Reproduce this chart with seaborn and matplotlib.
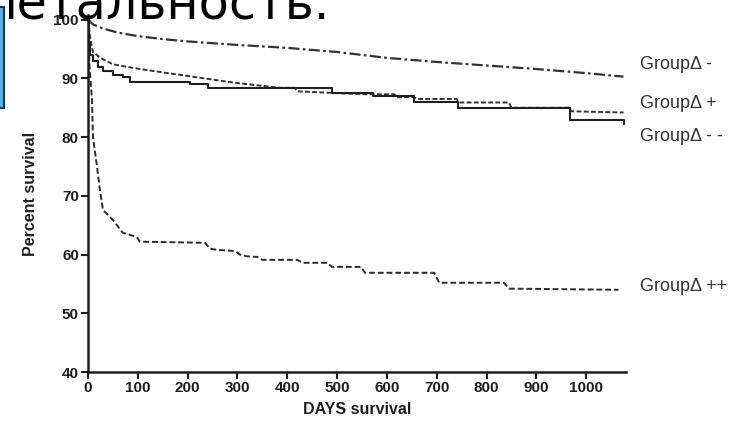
# survival curves, four groups (Kaplan-Meier style)
import matplotlib
matplotlib.use('Agg')
import matplotlib.pyplot as plt
import seaborn as sns
from matplotlib.patches import Rectangle

# ---- data {{{
group_names = ['GroupΔ -', 'GroupΔ +', 'GroupΔ - -', 'GroupΔ ++']

days_minus = [0, 10, 30, 60, 100, 150, 200, 300, 400, 500, 600, 700, 800, 900, 1000, 1075]
surv_minus = [100, 99.2, 98.5, 97.8, 97.2, 96.7, 96.3, 95.7, 95.2, 94.5, 93.5, 92.8, 92.2, 91.6, 90.9, 90.3]

days_plus = [0, 5, 10, 25, 50, 90, 120, 185, 250, 300, 385, 415, 420, 500, 560, 615, 620,
             655, 660, 740, 745, 845, 850, 965, 970, 1075]
surv_plus = [100, 96.5, 94.5, 93.5, 92.4, 91.8, 91.4, 90.6, 89.8, 89.2, 88.4, 88.4, 87.8, 87.5, 87.3, 87.3, 86.8,
             86.8, 86.5, 86.5, 85.9, 85.9, 85.0, 85.0, 84.4, 84.2]

days_mm = [0, 2, 5, 10, 20, 30, 50, 70, 85, 205, 240, 490, 572, 655, 743, 968, 1065, 1075]
surv_mm = [100, 96, 94, 93, 92, 91.2, 90.5, 90.3, 89.4, 89.0, 88.4, 87.5, 87.0, 86.0, 85.0, 83.0, 83.0, 82.3]

days_pp = [0, 3, 8, 10, 18, 24, 30, 50, 70, 98, 104, 235, 245, 259, 295, 305, 319, 340, 350,
           420, 430, 480, 490, 548, 556, 695, 705, 835, 845, 1065]
surv_pp = [100, 92, 86.4, 80, 75, 71, 67.6, 65.9, 63.7, 63.0, 62.2, 62.0, 61.0, 60.8, 60.6, 60.0, 59.7, 59.6, 59.1,
           59.1, 58.6, 58.6, 57.9, 57.9, 56.9, 56.9, 55.2, 55.2, 54.2, 54.0]

x_ticks = [0, 100, 200, 300, 400, 500, 600, 700, 800, 900, 1000]
y_ticks = [40, 50, 60, 70, 80, 90, 100]
# }}}

# ---- layout {{{
label_x = 1108
label_y = [92.3, 85.7, 80.05, 54.5]
# }}}

sns.set_theme(style='white')
plt.rcParams['font.family'] = ['Liberation Sans', 'DejaVu Sans']

fig = plt.figure(figsize=(7.5, 4.25), dpi=100)
ax = fig.add_axes([88 / 750, 53 / 425, 538 / 750, 357 / 425])

ink = '#1e1e1e'
sns.lineplot(x=days_minus, y=surv_minus, ax=ax, color='#333333', linewidth=1.6,
             linestyle=(0, (5, 1.5, 1.2, 1.5)), estimator=None)
sns.lineplot(x=days_plus, y=surv_plus, ax=ax, color='#333333', linewidth=1.4,
             linestyle=(0, (2.5, 1.2)), estimator=None)
sns.lineplot(x=days_mm, y=surv_mm, ax=ax, color=ink, linewidth=1.5,
             drawstyle='steps-post', estimator=None)
sns.lineplot(x=days_pp, y=surv_pp, ax=ax, color='#2a2a2a', linewidth=1.4,
             linestyle=(0, (3, 1.5)), estimator=None)

for name, yy in zip(group_names, label_y):
	ax.text(label_x, yy, name, ha='left', va='center', fontsize=13,
	        color='#333333', clip_on=False)

ax.set_xlim(0, 1080)
ax.set_ylim(40, 100.8)
ax.set_xticks(x_ticks)
ax.set_yticks(y_ticks)
ax.tick_params(axis='both', direction='out', length=5, width=1.5, colors=ink,
               labelsize=11, pad=1.5, left=True, bottom=True)
for lab in ax.get_xticklabels() + ax.get_yticklabels():
	lab.set_fontweight('bold')

for side in ['top', 'right']:
	ax.spines[side].set_visible(False)
for side in ['left', 'bottom']:
	ax.spines[side].set_linewidth(1.8)
	ax.spines[side].set_color(ink)

ax.set_xlabel('DAYS survival', fontsize=11.5, fontweight='bold', color=ink, labelpad=5)
ax.set_ylabel('Percent survival', fontsize=11.5, fontweight='bold', color=ink, labelpad=11)

# slide heading cropped at the top edge, with the blue box over its first letter
fig.text(-15 / 750, 1 - 19 / 425, 'летальность.', fontsize=35.5,
         family='DejaVu Sans', color='black', va='baseline', ha='left', zorder=5)
fig.patches.append(Rectangle((-6 / 750, 1 - 108 / 425), 10 / 750, 101 / 425,
                             transform=fig.transFigure, facecolor='#59b7e8',
                             edgecolor='#1b365d', linewidth=1.5, zorder=10))

fig.savefig('out.png', dpi=100)
